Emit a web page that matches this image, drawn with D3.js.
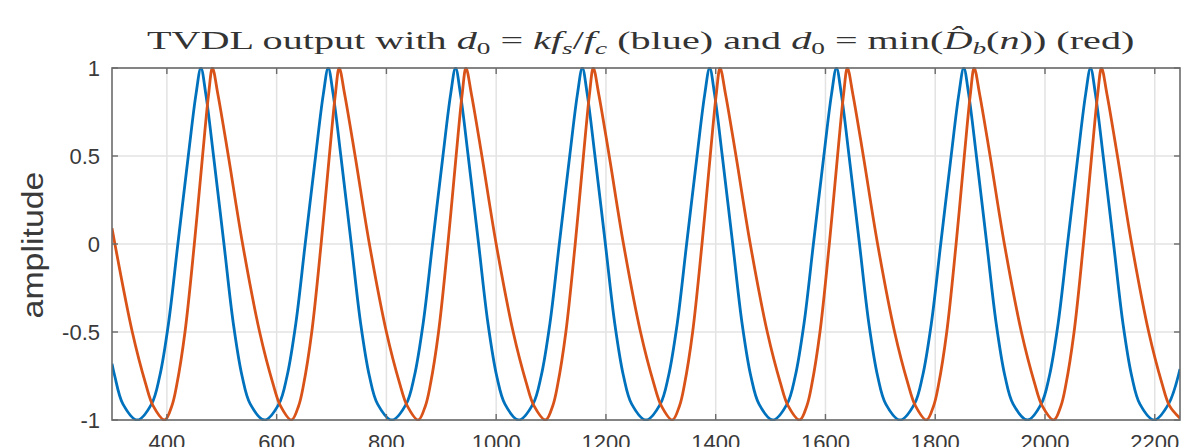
<!DOCTYPE html>
<html>
<head>
<meta charset="utf-8">
<script src="https://cdn.jsdelivr.net/npm/d3@7"></script>
<style>
  body { margin: 0; background: #fff; }
  svg { display: block; }
</style>
</head>
<body>
<div id="chart"></div>
<script>
// values
const xTicks = [400, 600, 800, 1000, 1200, 1400, 1600, 1800, 2000, 2200];
const yTicks = [-1, -0.5, 0, 0.5, 1];
const yTickLabels = ["-1", "-0.5", "0", "0.5", "1"];

// blue: d0 = k fs / fc
const blueX = [300, 305, 320, 346,
  372, 387, 403, 420, 439, 453, 462, 471, 485, 504, 521, 537, 552, 578,
  604, 619, 635, 652, 671, 685, 694, 703, 717, 736, 753, 769, 784, 810,
  836, 851, 867, 884, 903, 917, 926, 935, 949, 968, 985, 1001, 1016, 1041,
  1067, 1082, 1098, 1115, 1134, 1148, 1157, 1166, 1180, 1199, 1216, 1232, 1247, 1273,
  1299, 1314, 1330, 1347, 1366, 1380, 1389, 1398, 1412, 1431, 1448, 1464, 1479, 1504,
  1530, 1545, 1561, 1578, 1597, 1611, 1620, 1629, 1643, 1662, 1679, 1695, 1710, 1736,
  1762, 1777, 1793, 1810, 1829, 1843, 1852, 1861, 1875, 1894, 1911, 1927, 1942, 1968,
  1993, 2008, 2024, 2041, 2060, 2074, 2083, 2092, 2106, 2125, 2142, 2158, 2173, 2199,
  2225, 2246];
const blueY = [-0.68, -0.75, -0.91, -1,
  -0.91, -0.75, -0.45, 0, 0.5, 0.85, 1, 0.85, 0.5, 0, -0.45, -0.75, -0.91, -1,
  -0.91, -0.75, -0.45, 0, 0.5, 0.85, 1, 0.85, 0.5, 0, -0.45, -0.75, -0.91, -1,
  -0.91, -0.75, -0.45, 0, 0.5, 0.85, 1, 0.85, 0.5, 0, -0.45, -0.75, -0.91, -1,
  -0.91, -0.75, -0.45, 0, 0.5, 0.85, 1, 0.85, 0.5, 0, -0.45, -0.75, -0.91, -1,
  -0.91, -0.75, -0.45, 0, 0.5, 0.85, 1, 0.85, 0.5, 0, -0.45, -0.75, -0.91, -1,
  -0.91, -0.75, -0.45, 0, 0.5, 0.85, 1, 0.85, 0.5, 0, -0.45, -0.75, -0.91, -1,
  -0.91, -0.75, -0.45, 0, 0.5, 0.85, 1, 0.85, 0.5, 0, -0.45, -0.75, -0.91, -1,
  -0.91, -0.75, -0.45, 0, 0.5, 0.85, 1, 0.85, 0.5, 0, -0.45, -0.75, -0.91, -1,
  -0.91, -0.71];

// red: d0 = min(D_b(n))
const redX = [300, 337, 361, 375, 396,
  409, 418, 433, 450, 465, 476, 483, 493, 512, 538, 569, 593, 607, 627,
  640, 649, 664, 681, 696, 707, 714, 724, 743, 769, 800, 824, 838, 858,
  871, 880, 895, 912, 927, 938, 945, 955, 974, 1000, 1031, 1055, 1069, 1090,
  1103, 1112, 1127, 1144, 1159, 1170, 1177, 1187, 1206, 1232, 1263, 1287, 1301, 1321,
  1334, 1343, 1358, 1375, 1390, 1401, 1408, 1418, 1437, 1463, 1494, 1518, 1532, 1553,
  1566, 1575, 1590, 1607, 1622, 1633, 1640, 1650, 1669, 1695, 1726, 1750, 1764, 1784,
  1797, 1806, 1821, 1838, 1853, 1864, 1871, 1881, 1900, 1926, 1957, 1981, 1995, 2016,
  2029, 2038, 2053, 2070, 2085, 2096, 2103, 2113, 2132, 2158, 2189, 2213, 2227, 2246];
const redY = [0.09, -0.5, -0.79, -0.92, -1,
  -0.92, -0.8, -0.5, 0, 0.5, 0.85, 1, 0.85, 0.5, 0, -0.5, -0.79, -0.92, -1,
  -0.92, -0.8, -0.5, 0, 0.5, 0.85, 1, 0.85, 0.5, 0, -0.5, -0.79, -0.92, -1,
  -0.92, -0.8, -0.5, 0, 0.5, 0.85, 1, 0.85, 0.5, 0, -0.5, -0.79, -0.92, -1,
  -0.92, -0.8, -0.5, 0, 0.5, 0.85, 1, 0.85, 0.5, 0, -0.5, -0.79, -0.92, -1,
  -0.92, -0.8, -0.5, 0, 0.5, 0.85, 1, 0.85, 0.5, 0, -0.5, -0.79, -0.92, -1,
  -0.92, -0.8, -0.5, 0, 0.5, 0.85, 1, 0.85, 0.5, 0, -0.5, -0.79, -0.92, -1,
  -0.92, -0.8, -0.5, 0, 0.5, 0.85, 1, 0.85, 0.5, 0, -0.5, -0.79, -0.92, -1,
  -0.92, -0.8, -0.5, 0, 0.5, 0.85, 1, 0.85, 0.5, 0, -0.5, -0.79, -0.92, -0.99];

const width = 1200, height = 447;
const margin = { top: 68, right: 20, bottom: 27, left: 112 };

const svg = d3.select("#chart").append("svg")
    .attr("width", width)
    .attr("height", height);

const x = d3.scaleLinear().domain([300, 2246]).range([margin.left, width - margin.right]);
const y = d3.scaleLinear().domain([-1, 1]).range([height - margin.bottom, margin.top]);

const x0 = x.range()[0], x1 = x.range()[1];
const yb = y.range()[0], yt = y.range()[1];

// grid
const grid = svg.append("g").attr("stroke", "#e3e3e3").attr("stroke-width", 1.5);
grid.selectAll(".gx").data(xTicks).enter().append("line")
    .attr("x1", d => x(d)).attr("x2", d => x(d))
    .attr("y1", yt).attr("y2", yb);
grid.selectAll(".gy").data(yTicks).enter().append("line")
    .attr("x1", x0).attr("x2", x1)
    .attr("y1", d => y(d)).attr("y2", d => y(d));

// curves
svg.append("clipPath").attr("id", "clip")
    .append("rect").attr("x", x0).attr("y", yt - 1).attr("width", x1 - x0).attr("height", yb - yt + 2);

const line = d3.line()
    .x(d => x(d[0]))
    .y(d => y(d[1]))
    .curve(d3.curveCatmullRom.alpha(0.5));

const curves = svg.append("g").attr("clip-path", "url(#clip)").attr("fill", "none")
    .attr("stroke-width", 2.8).attr("stroke-linejoin", "round");
curves.append("path")
    .attr("d", line(d3.zip(blueX, blueY)))
    .attr("stroke", "#0072BD");
curves.append("path")
    .attr("d", line(d3.zip(redX, redY)))
    .attr("stroke", "#D95319");

// box and ticks (MATLAB style, ticks inward on all sides)
const axisColor = "#6b6b6b";
svg.append("rect")
    .attr("x", x0).attr("y", yt).attr("width", x1 - x0).attr("height", yb - yt)
    .attr("fill", "none").attr("stroke", axisColor).attr("stroke-width", 1.6);

const tl = 6;
const ticks = svg.append("g").attr("stroke", axisColor).attr("stroke-width", 1.4);
xTicks.forEach(t => {
    ticks.append("line").attr("x1", x(t)).attr("x2", x(t)).attr("y1", yb).attr("y2", yb - tl);
    ticks.append("line").attr("x1", x(t)).attr("x2", x(t)).attr("y1", yt).attr("y2", yt + tl);
});
yTicks.forEach(t => {
    ticks.append("line").attr("x1", x0).attr("x2", x0 + tl).attr("y1", y(t)).attr("y2", y(t));
    ticks.append("line").attr("x1", x1).attr("x2", x1 - tl).attr("y1", y(t)).attr("y2", y(t));
});

// tick labels
const labelFont = "Liberation Sans, Arial, Helvetica, sans-serif";
svg.append("g").selectAll("text").data(xTicks).enter().append("text")
    .attr("x", d => x(d)).attr("y", yb + 14)
    .attr("dy", "0.71em")
    .attr("text-anchor", "middle")
    .attr("font-family", labelFont).attr("font-size", 22).attr("fill", "#3a3a3a")
    .text(d => d);

svg.append("g").selectAll("text").data(yTicks).enter().append("text")
    .attr("x", x0 - 12).attr("y", d => y(d))
    .attr("dy", "0.35em")
    .attr("text-anchor", "end")
    .attr("font-family", labelFont).attr("font-size", 22).attr("fill", "#3a3a3a")
    .text((d, i) => yTickLabels[i]);

// y label, stretched to the length it has in the picture
const ylab = svg.append("text")
    .attr("text-anchor", "middle")
    .attr("font-family", labelFont).attr("font-size", 29).attr("fill", "#3a3a3a")
    .text("amplitude");
const ylw = ylab.node().getComputedTextLength();
ylab.attr("transform", "translate(43," + ((yt + yb) / 2 + 1) + ") rotate(-90) scale(" + (147 / ylw) + ",1)");

// title, LaTeX-like
const title = svg.append("text")
    .attr("x", 0).attr("y", 0)
    .attr("font-family", "Liberation Serif, DejaVu Serif, serif")
    .attr("font-size", 25).attr("fill", "#333");

function part(txt, opts) {
    const o = opts || {};
    const s = title.append("tspan").text(txt);
    if (o.it) s.attr("font-style", "italic");
    if (o.dy) s.attr("dy", o.dy);
    if (o.fs) s.attr("font-size", o.fs);
    return s;
}
part("TVDL output with ");
part("d", { it: true });
part("0", { dy: 5, fs: 17 });
part(" = ", { dy: -5 });
part("kf", { it: true });
part("s", { it: true, dy: 5, fs: 17 });
part("/", { dy: -5 });
part("f", { it: true });
part("c", { it: true, dy: 5, fs: 17 });
part(" (blue) and ", { dy: -5 });
part("d", { it: true });
part("0", { dy: 5, fs: 17 });
part(" = min(", { dy: -5 });
part("D\u0302", { it: true });
part("b", { it: true, dy: 5, fs: 17 });
part("(", { dy: -5 });
part("n", { it: true });
part(")) (red)");

// fit title to the width it has in the picture
const bb = title.node().getBBox();
const targetW = 988, cx = 641, baseY = 48.5;
const sx = targetW / bb.width;
title.attr("transform", "translate(" + (cx - targetW / 2) + "," + baseY + ") scale(" + sx + ",1)");
</script>
</body>
</html>
